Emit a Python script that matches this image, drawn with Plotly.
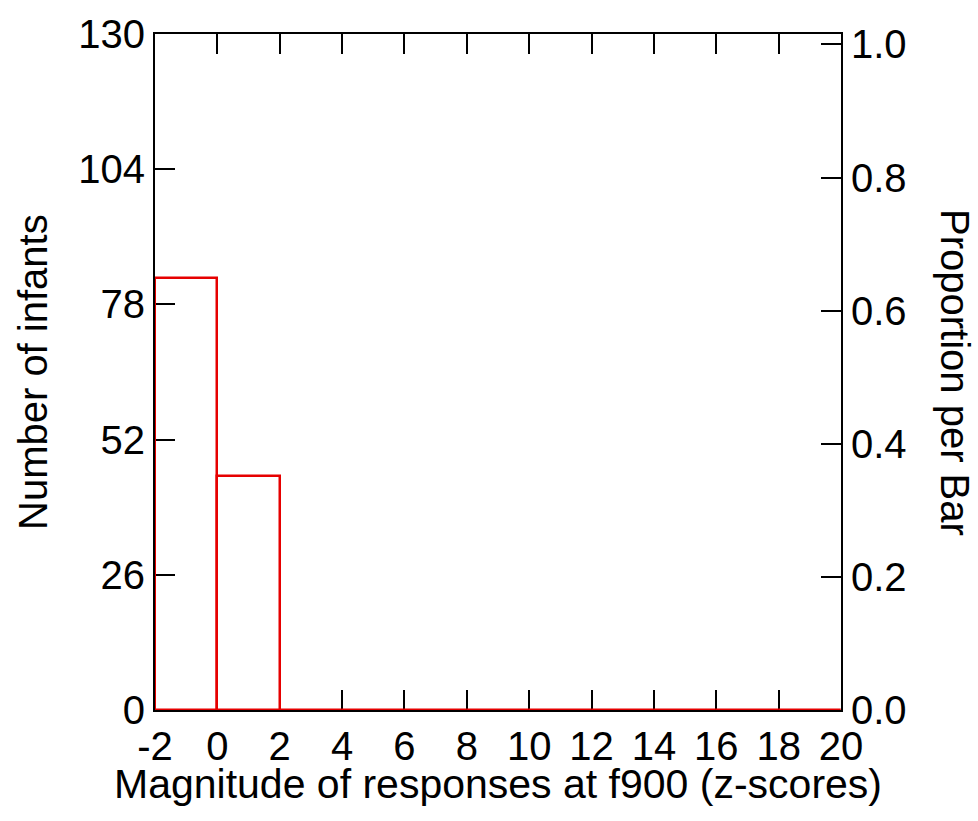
import plotly.graph_objects as go

# Data
bin_edges = [-2, 0, 2, 4, 6, 8, 10, 12, 14, 16, 18, 20]
counts = [83, 45, 0, 0, 0, 0, 0, 0, 0, 0, 0]
y_left_ticks = [0, 26, 52, 78, 104, 130]
y_right_ticks = [0.0, 0.2, 0.4, 0.6, 0.8, 1.0]
x_ticks = [-2, 0, 2, 4, 6, 8, 10, 12, 14, 16, 18, 20]

total = sum(counts)
ymax = 130

FONT = "Liberation Sans, Arial, Helvetica, sans-serif"
RED = "rgb(230,0,0)"

centers = [(bin_edges[i] + bin_edges[i + 1]) / 2 for i in range(len(counts))]
widths = [bin_edges[i + 1] - bin_edges[i] for i in range(len(counts))]

fig = go.Figure()
# proportion trace on right axis (invisible, defines the axis)
fig.add_trace(go.Scatter(x=centers, y=[c / total for c in counts], yaxis="y2",
                         mode="lines", line=dict(width=0, color="rgba(0,0,0,0)"),
                         hoverinfo="skip", showlegend=False))
fig.add_trace(go.Bar(x=centers, y=counts, width=widths,
                     marker=dict(color="rgba(0,0,0,0)", line=dict(color=RED, width=2.5)),
                     cliponaxis=False, hoverinfo="skip", showlegend=False))

axis_common = dict(showgrid=False, zeroline=False, showline=True, linecolor="black",
                   linewidth=2, ticks="inside", ticklen=20, tickwidth=1.5,
                   tickcolor="black", layer="below traces",
                   tickfont=dict(family=FONT, size=40, color="black"))

fig.update_layout(
    width=978, height=821,
    margin=dict(l=155, r=137, t=25, b=111),
    paper_bgcolor="white", plot_bgcolor="white",
    font=dict(family=FONT, size=40, color="black"),
    bargap=0,
    xaxis=dict(range=[bin_edges[0], bin_edges[-1]], tickvals=x_ticks,
               ticktext=[str(v) for v in x_ticks], mirror="ticks", **axis_common),
    yaxis=dict(range=[0, ymax], tickvals=y_left_ticks,
               ticktext=[str(v) for v in y_left_ticks], **axis_common),
    yaxis2=dict(range=[0, ymax / total], tickvals=y_right_ticks,
                ticktext=[f"{v:.1f}" for v in y_right_ticks], overlaying="y",
                side="right", **axis_common),
    annotations=[
        dict(text="Magnitude of responses at f900 (z-scores)", xref="paper", yref="paper",
             x=0.5, y=0, xanchor="center", yanchor="middle", yshift=-74,
             showarrow=False, font=dict(family=FONT, size=41)),
        dict(text="Number of infants", xref="paper", yref="paper", x=0, y=0.5,
             xanchor="center", yanchor="middle", xshift=-122, textangle=-90,
             showarrow=False, font=dict(family=FONT, size=40)),
        dict(text="Proportion per Bar", xref="paper", yref="paper", x=1, y=0.5,
             xanchor="center", yanchor="middle", xshift=114, textangle=90,
             showarrow=False, font=dict(family=FONT, size=40)),
    ],
)

fig.write_html("out.html")
